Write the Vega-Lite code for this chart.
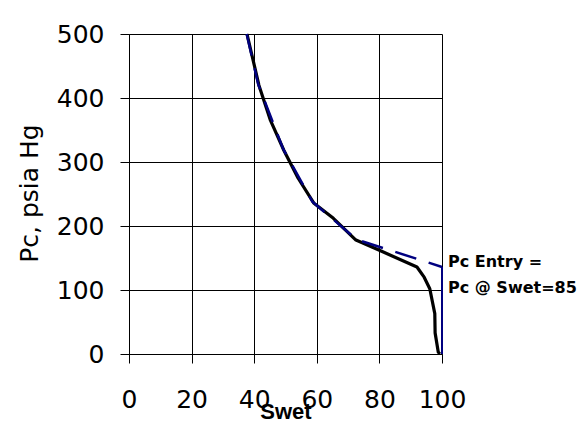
{
  "$schema": "https://vega.github.io/schema/vega-lite/v6.json",
  "width": 313,
  "height": 320,
  "autosize": "none",
  "padding": {"left": 129, "top": 34, "right": 136, "bottom": 84},
  "background": "white",
  "config": {"view": {"stroke": null}, "font": "DejaVu Sans"},
  "datasets": {
    "measured": [
      {"Swet": 37.7, "Pc": 500},
      {"Swet": 41.5, "Pc": 420},
      {"Swet": 45.2, "Pc": 365},
      {"Swet": 49.5, "Pc": 318},
      {"Swet": 54, "Pc": 275},
      {"Swet": 59, "Pc": 236},
      {"Swet": 65.3, "Pc": 212},
      {"Swet": 72.5, "Pc": 178},
      {"Swet": 80, "Pc": 162},
      {"Swet": 92, "Pc": 136},
      {"Swet": 94.3, "Pc": 120},
      {"Swet": 96.1, "Pc": 102},
      {"Swet": 97.7, "Pc": 63},
      {"Swet": 97.8, "Pc": 33},
      {"Swet": 98.8, "Pc": 3},
      {"Swet": 99.3, "Pc": 0}
    ],
    "entry": [
      {"Swet": 37.6, "Pc": 500},
      {"Swet": 41.3, "Pc": 421},
      {"Swet": 49.3, "Pc": 320},
      {"Swet": 58.6, "Pc": 238},
      {"Swet": 72.7, "Pc": 179},
      {"Swet": 100, "Pc": 136}
    ],
    "drop": [
      {"Swet": 100, "Pc": 136},
      {"Swet": 100, "Pc": 0}
    ],
    "notes": [
      {"Swet": 100, "Pc": 135.5, "note": "Pc Entry ="},
      {"Swet": 100, "Pc": 96, "note": "Pc @ Swet=85"}
    ]
  },
  "encoding": {
    "x": {
      "field": "Swet",
      "type": "quantitative",
      "scale": {"domain": [0, 100], "nice": false, "zero": false},
      "axis": {
        "values": [0, 20, 40, 60, 80, 100],
        "grid": true,
        "gridColor": "#000000",
        "gridOpacity": 1,
        "gridWidth": 1,
        "domainColor": "#000000",
        "domainWidth": 1,
        "tickColor": "#000000",
        "tickSize": 9,
        "labelFont": "DejaVu Sans",
        "labelFontSize": 25,
        "labelColor": "#000000",
        "labelPadding": 24,
        "labelFlush": false,
        "labelOverlap": false,
        "title": "Swet",
        "titleFont": "Liberation Sans",
        "titleFontSize": 22,
        "titleFontWeight": "bold",
        "titleColor": "#000000",
        "titleBaseline": "alphabetic",
        "titleY": 64
      }
    },
    "y": {
      "field": "Pc",
      "type": "quantitative",
      "scale": {"domain": [0, 500], "nice": false},
      "axis": {
        "values": [0, 100, 200, 300, 400, 500],
        "grid": true,
        "gridColor": "#000000",
        "gridOpacity": 1,
        "gridWidth": 1,
        "domainColor": "#000000",
        "domainWidth": 1,
        "tickColor": "#000000",
        "tickSize": 9,
        "labelFont": "DejaVu Sans",
        "labelFontSize": 25,
        "labelColor": "#000000",
        "labelPadding": 16,
        "labelOverlap": false,
        "title": "Pc, psia Hg",
        "titleFont": "DejaVu Sans",
        "titleFontSize": 25,
        "titleFontWeight": "normal",
        "titleColor": "#000000",
        "titleBaseline": "alphabetic",
        "titleAngle": -90,
        "titleX": -92,
        "titleY": 159
      }
    }
  },
  "layer": [
    {
      "data": {"name": "measured"},
      "mark": {"type": "line", "color": "#000000", "strokeWidth": 3.2, "strokeJoin": "round"}
    },
    {
      "data": {"name": "entry"},
      "mark": {"type": "line", "color": "#000080", "strokeWidth": 2.5, "strokeDash": [22, 13]}
    },
    {
      "data": {"name": "drop"},
      "mark": {"type": "line", "color": "#000080", "strokeWidth": 2}
    },
    {
      "data": {"name": "notes"},
      "mark": {"type": "text", "align": "left", "baseline": "alphabetic", "dx": 6, "font": "DejaVu Sans", "fontWeight": "bold", "fontSize": 16, "color": "#000000"},
      "encoding": {"text": {"field": "note"}}
    }
  ]
}
